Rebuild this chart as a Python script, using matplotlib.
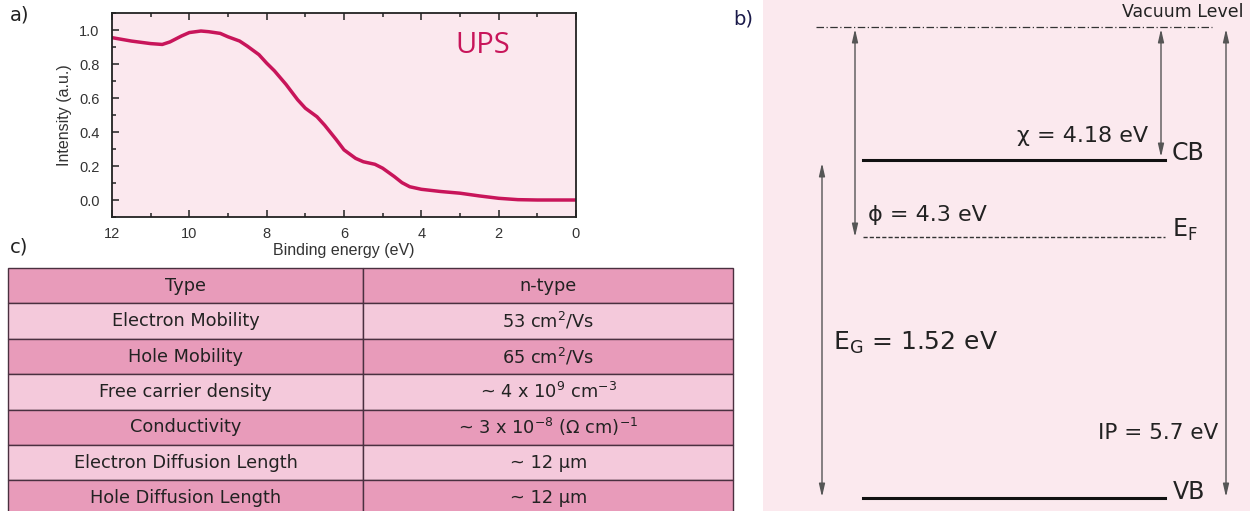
import matplotlib
matplotlib.use("Agg")
import matplotlib.pyplot as plt
from matplotlib.ticker import MultipleLocator, FormatStrFormatter

# --- data: UPS spectrum ---
binding_energy = [12.0, 11.5, 11.0, 10.7, 10.5, 10.2, 10.0, 9.7, 9.5, 9.2, 9.0, 8.7, 8.5,
                  8.2, 8.0, 7.8, 7.5, 7.2, 7.0, 6.7, 6.5, 6.2, 6.0, 5.7, 5.5, 5.2, 5.0,
                  4.7, 4.5, 4.3, 4.0, 3.5, 3.0, 2.5, 2.0, 1.5, 1.0, 0.5, 0.0]
intensity = [0.955, 0.935, 0.92, 0.915, 0.93, 0.965, 0.985, 0.994, 0.99, 0.98, 0.96, 0.935,
             0.905, 0.855, 0.805, 0.76, 0.68, 0.59, 0.54, 0.49, 0.44, 0.355, 0.295, 0.245,
             0.225, 0.21, 0.187, 0.138, 0.102, 0.078, 0.063, 0.05, 0.04, 0.024, 0.01,
             0.002, 0.0, 0.0, 0.0]

# --- data: properties table ---
prop_names = ["Type", "Electron Mobility", "Hole Mobility", "Free carrier density",
              "Conductivity", "Electron Diffusion Length", "Hole Diffusion Length"]
prop_values = ["n-type", "53 cm$^2$/Vs", "65 cm$^2$/Vs", "~ 4 x 10$^9$ cm$^{-3}$",
               "~ 3 x 10$^{-8}$ ($\\Omega$ cm)$^{-1}$", "~ 12 µm", "~ 12 µm"]

# --- data: band diagram labels ---
level_labels = ["Vacuum Level", "CB", "E$_\\mathrm{F}$", "VB"]
chi_label = "χ = 4.18 eV"
phi_label = "ϕ = 4.3 eV"
eg_label = "E$_\\mathrm{G}$ = 1.52 eV"
ip_label = "IP = 5.7 eV"

plt.rcParams["mathtext.fontset"] = "dejavusans"

W, H = 1250, 511
fig = plt.figure(figsize=(W / 100, H / 100), dpi=100)
fig.patch.set_facecolor("white")

def box(x0, y0, x1, y1):
    # pixel box (top-left origin) -> figure fraction rect
    return [x0 / W, 1 - y1 / H, (x1 - x0) / W, (y1 - y0) / H]

# === a) UPS spectrum ===
ax = fig.add_axes(box(112, 13, 576, 217))
ax.set_facecolor("#fbe8ee")
ax.plot(binding_energy, intensity, color="#c8155a", lw=2.5, solid_capstyle="round")
ax.set_xlim(12, 0)
ax.set_ylim(-0.1, 1.1)
ax.xaxis.set_major_locator(MultipleLocator(2))
ax.xaxis.set_minor_locator(MultipleLocator(1))
ax.yaxis.set_major_locator(MultipleLocator(0.2))
ax.yaxis.set_minor_locator(MultipleLocator(0.1))
ax.yaxis.set_major_formatter(FormatStrFormatter("%.1f"))
ax.tick_params(which="both", direction="in", top=True, right=False, colors="#222",
               labelcolor="#333", labelsize=10.5, width=1.1)
ax.tick_params(which="major", length=5)
ax.tick_params(which="minor", length=3)
ax.tick_params(axis="x", pad=7)
ax.tick_params(axis="y", pad=9)
for lab in ax.get_xticklabels() + ax.get_yticklabels():
    lab.set_family("Liberation Sans")
for sp in ax.spines.values():
    sp.set_linewidth(1.3)
    sp.set_color("#222")
ax.set_xlabel("Binding energy (eV)", family="Liberation Sans", fontsize=11.5,
              color="#333", labelpad=2)
ax.set_ylabel("Intensity (a.u.)", family="Liberation Sans", fontsize=11.5,
              color="#333", labelpad=5)
ax.text(0.8, 0.84, "UPS", transform=ax.transAxes, ha="center", va="center",
        fontsize=21, color="#c8155a", family="Open Sans")

# === c) table ===
tax = fig.add_axes(box(8, 268, 733, 268 + 7 * 35.4))
tax.set_axis_off()
dark, light = "#e89bba", "#f4c9db"
colours = [[dark, dark] if i % 2 == 0 else [light, light] for i in range(len(prop_names))]
cells = [[n, v] for n, v in zip(prop_names, prop_values)]
tbl = tax.table(cellText=cells, cellColours=colours, cellLoc="center",
                colWidths=[0.49, 0.51], bbox=[0, 0, 1, 1])
tbl.auto_set_font_size(False)
tbl.set_fontsize(12.8)
for cell in tbl.get_celld().values():
    cell.set_edgecolor("#4a3040")
    cell.set_linewidth(1.0)
    cell.get_text().set_color("#222")

# === b) band diagram (schematic, pixel layout) ===
bax = fig.add_axes(box(763, 0, 1250, 511))
bax.set_xlim(763, 1250)
bax.set_ylim(511, 0)
bax.set_axis_off()
bax.add_patch(plt.Rectangle((763, 0), 487, 511, color="#fbe9ee", zorder=0))

# layout of the schematic (positions only)
level_y = {"vac": 27, "cb": 160, "ef": 237, "vb": 498}
lx0, lx1 = 863, 1165
bax.plot([816, 1212], [level_y["vac"]] * 2, color="#333", lw=0.9, ls=(0, (6, 2, 1, 2)))
bax.plot([lx0, lx1], [level_y["cb"]] * 2, color="#111", lw=2.2)
bax.plot([lx0, lx1], [level_y["ef"]] * 2, color="#333", lw=1.0, ls=(0, (3, 1.5)))
bax.plot([lx0, lx1], [level_y["vb"]] * 2, color="#111", lw=2.2)

bax.text(1243, 12, level_labels[0], ha="right", va="center", fontsize=12.5, color="#222")
bax.text(1172, 153, level_labels[1], ha="left", va="center", fontsize=17, color="#222")
bax.text(1172, 230, level_labels[2], ha="left", va="center", fontsize=17, color="#222")
bax.text(1173, 492, level_labels[3], ha="left", va="center", fontsize=17, color="#222")

arrow = dict(arrowstyle="<|-|>,head_length=0.7,head_width=0.16", color="#555", lw=1.0,
             shrinkA=0, shrinkB=0, mutation_scale=11)
for x, y0, y1 in [(855, level_y["vac"] + 2, level_y["ef"]),
                  (1161, level_y["vac"] + 2, level_y["cb"] - 3),
                  (1226, level_y["vac"] + 2, level_y["vb"] - 1),
                  (822, level_y["cb"] + 3, level_y["vb"] - 1)]:
    bax.annotate("", xy=(x, y1), xytext=(x, y0), arrowprops=arrow)

bax.text(1148, 136, chi_label, ha="right", va="center", fontsize=16, color="#222")
bax.text(868, 215, phi_label, ha="left", va="center", fontsize=16, color="#222")
bax.text(833, 343, eg_label, ha="left", va="center", fontsize=18, color="#222")
bax.text(1218, 433, ip_label, ha="right", va="center", fontsize=15.5, color="#222")

# panel letters
fig.text(10 / W, 1 - 15 / H, "a)", fontsize=14, color="#222", va="center")
fig.text(10 / W, 1 - 247 / H, "c)", fontsize=14, color="#222", va="center")
fig.text(733 / W, 1 - 19 / H, "b)", fontsize=14, color="#1a1a4a", va="center")

fig.savefig("out.png", dpi=100)
